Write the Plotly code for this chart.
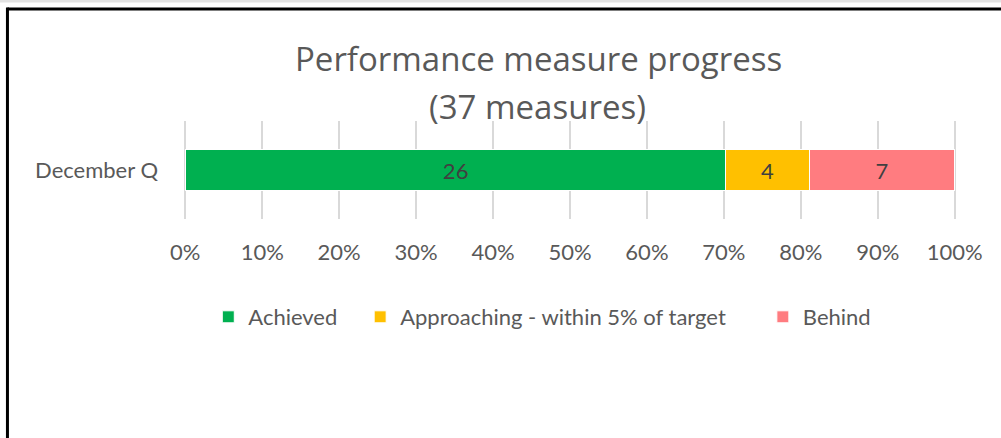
import plotly.graph_objects as go

categories = ["December Q"]
series_names = ["Achieved", "Approaching - within 5% of target", "Behind"]
series_values = [[26], [4], [7]]
series_colors = ["#00B050", "#FFC000", "#FF7C80"]
tick_vals = [0, 10, 20, 30, 40, 50, 60, 70, 80, 90, 100]
tick_text = ["0%", "10%", "20%", "30%", "40%", "50%", "60%", "70%", "80%", "90%", "100%"]
title_line1 = "Performance measure progress"
title_line2 = "(37 measures)"

FONT = "Lato"
GREY = "#595959"

W, H = 1001, 438
X0_PX, X100_PX = 185.0, 955.0
PAD = 0.3  # range padding (axis units) so edge gridlines are drawn
PPU = (X100_PX - X0_PX) / 100.0
L = X0_PX - PAD * PPU
R = W - (X100_PX + PAD * PPU)
T, B = 121, 219
PW = W - L - R
PH = H - T - B


def px_x(px):
    return (px - L) / PW


def px_y(py):
    return (H - B - py) / PH


fig = go.Figure()
legend_ids = ["legend", "legend2", "legend3"]
for name, vals, col, lg in zip(series_names, series_values, series_colors, legend_ids):
    fig.add_trace(go.Bar(
        y=categories, x=vals, name=name, orientation="h", legend=lg,
        marker=dict(color=col, line=dict(color="white", width=1)),
        text=[str(v) for v in vals], textposition="inside",
        insidetextanchor="middle", textangle=0,
        textfont=dict(family=FONT, size=22, color="#404040"),
    ))

marker_centers = [228, 380, 783]
legend_common = dict(orientation="h", xanchor="left", yanchor="middle",
                     font=dict(family=FONT, size=22, color=GREY),
                     itemwidth=30, bgcolor="rgba(0,0,0,0)")
legends = {}
for lg, mc in zip(legend_ids, marker_centers):
    legends[lg] = dict(legend_common, x=px_x(mc - 20), y=px_y(317))

fig.update_layout(
    width=W, height=H,
    margin=dict(l=L, r=R, t=T, b=B, autoexpand=False),
    barmode="stack", barnorm="percent", bargap=0.59,
    paper_bgcolor="white", plot_bgcolor="white",
    font=dict(family=FONT, color=GREY),
    showlegend=True,
    xaxis=dict(range=[-PAD, 100 + PAD], tickvals=tick_vals, ticktext=tick_text,
               showgrid=True, gridcolor="#d9d9d9", gridwidth=2,
               zeroline=False, showline=False, ticks="",
               ticklabelstandoff=18,
               tickfont=dict(family=FONT, size=22, color=GREY),
               fixedrange=True),
    yaxis=dict(showgrid=False, zeroline=False, showline=False, ticks="",
               ticklabelstandoff=24, fixedrange=True,
               tickfont=dict(family=FONT, size=22, color=GREY)),
    annotations=[
        dict(text=title_line1, xref="paper", yref="paper", x=px_x(538), y=px_y(58),
             xanchor="center", yanchor="middle", showarrow=False,
             font=dict(family="Open Sans", size=33, color=GREY)),
        dict(text=title_line2, xref="paper", yref="paper", x=px_x(537), y=px_y(106),
             xanchor="center", yanchor="middle", showarrow=False,
             font=dict(family="Open Sans", size=33, color=GREY)),
    ],
    shapes=[
        dict(type="rect", xref="paper", yref="paper", x0=px_x(-5), x1=px_x(1010),
             y0=px_y(-5), y1=px_y(2.5), fillcolor="#e3e3e3", line=dict(width=0), layer="above"),
        dict(type="line", xref="paper", yref="paper", x0=px_x(7), x1=px_x(1010),
             y0=px_y(9), y1=px_y(9), line=dict(color="black", width=3)),
        dict(type="line", xref="paper", yref="paper", x0=px_x(7), x1=px_x(7),
             y0=px_y(7.5), y1=px_y(445), line=dict(color="black", width=3)),
    ],
    **legends,
)

fig.write_html("out.html", config={"displayModeBar": False},
               post_script="document.body.style.margin='0';")
